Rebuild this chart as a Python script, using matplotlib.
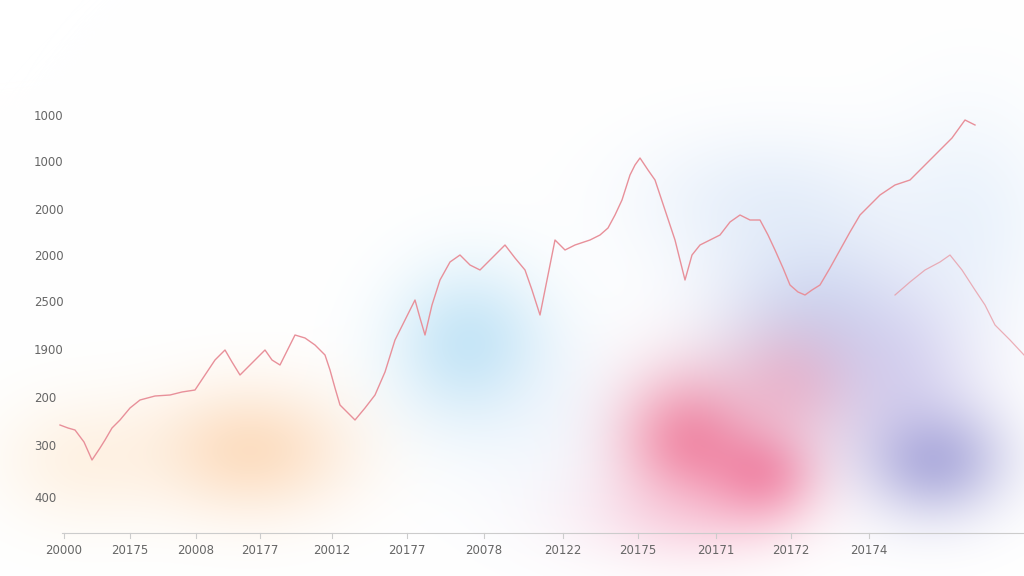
import numpy as np
import matplotlib.pyplot as plt

y_labels = ["1000", "1000", "2000", "2000", "2500", "1900", "200", "300", "400"]
y_pos = [116, 163, 210, 256, 303, 351, 398, 447, 498]
x_labels = ["20000", "20175", "20008", "20177", "20012", "20177", "20078",
            "20122", "20175", "20171", "20172", "20174"]
x_pos = [64, 130, 196, 260, 332, 407, 484, 563, 638, 716, 791, 869]

line_x = [60, 68, 75, 84, 92, 100, 105, 112, 120, 130, 140, 155, 170, 182, 195, 205,
          215, 225, 232, 240, 250, 265, 272, 280, 295, 305, 315, 325, 330, 335, 340,
          347, 355, 365, 375, 385, 395, 405, 415, 420, 425, 432, 440, 450, 460, 470,
          480, 492, 505, 515, 525, 532, 540, 548, 555, 565, 575, 590, 600, 608, 615,
          622, 630, 635, 640, 648, 655, 660, 665, 675, 685, 692, 700, 710, 720, 730,
          740, 750, 760, 768, 775, 783, 790, 798, 805, 812, 820, 830, 840, 850, 860,
          870, 880, 895, 910, 925, 940, 952, 965, 975]
line_y = [425, 428, 430, 442, 460, 448, 440, 428, 420, 408, 400, 396, 395, 392, 390, 375,
          360, 350, 362, 375, 365, 350, 360, 365, 335, 338, 345, 355, 370, 388, 405,
          412, 420, 408, 395, 372, 340, 320, 300, 318, 335, 305, 280, 262, 255, 265,
          270, 258, 245, 258, 270, 290, 315, 275, 240, 250, 245, 240, 235, 228, 215,
          200, 175, 165, 158, 170, 180, 195, 210, 240, 280, 255, 245, 240, 235, 222,
          215, 220, 220, 235, 250, 268, 285, 292, 295, 290, 285, 268, 250, 232, 215,
          205, 195, 185, 180, 165, 150, 138, 120, 125]
line2_x = [895, 910, 925, 940, 950, 962, 975, 985, 995, 1010, 1024]
line2_y = [295, 282, 270, 262, 255, 270, 290, 305, 325, 340, 355]

# watercolor blobs: x, y, sx, sy, colour, strength
blobs = [
    (250, 450, 70, 45, (0.98, 0.72, 0.48), 0.45),
    (80, 460, 60, 45, (0.99, 0.82, 0.62), 0.25),
    (470, 345, 55, 55, (0.50, 0.78, 0.93), 0.45),
    (560, 430, 80, 70, (0.88, 0.92, 0.98), 0.30),
    (690, 440, 50, 50, (0.93, 0.35, 0.50), 0.65),
    (760, 475, 40, 35, (0.92, 0.20, 0.40), 0.50),
    (810, 320, 70, 70, (0.55, 0.65, 0.88), 0.40),
    (790, 385, 50, 45, (0.96, 0.50, 0.62), 0.40),
    (935, 460, 50, 40, (0.35, 0.35, 0.72), 0.45),
    (905, 370, 55, 65, (0.62, 0.55, 0.85), 0.30),
    (760, 200, 90, 50, (0.78, 0.86, 0.96), 0.35),
    (970, 220, 60, 80, (0.80, 0.88, 0.97), 0.35),
    (680, 515, 80, 35, (0.96, 0.68, 0.80), 0.30),
]

fig = plt.figure(figsize=(10.24, 5.76), dpi=100)
ax = fig.add_axes([0, 0, 1, 1])
ax.set_xlim(0, 1024)
ax.set_ylim(576, 0)
ax.axis("off")

gx, gy = np.meshgrid(np.arange(1024), np.arange(576))
img = np.ones((576, 1024, 3))
for bx, by, sx, sy, col, a in blobs:
    w = a * np.exp(-(((gx - bx) / sx) ** 2 + ((gy - by) / sy) ** 2) / 2)
    w = np.clip(w, 0, 0.85)[..., None]
    img = img * (1 - w) + np.array(col) * w
ax.imshow(img, extent=(0, 1024, 576, 0), aspect="auto", zorder=0)

ax.plot(line_x, line_y, color="#e8909a", lw=1.0, zorder=3)
ax.plot(line2_x, line2_y, color="#e8909a", lw=0.9, alpha=0.7, zorder=3)
ax.plot([62, 1024], [533, 533], color="#cccccc", lw=0.8, zorder=2)

for lab, yp in zip(y_labels, y_pos):
    ax.text(34, yp, lab, fontsize=8.5, color="#666666", va="center", ha="left")
for lab, xp in zip(x_labels, x_pos):
    ax.plot([xp, xp], [533, 538], color="#cccccc", lw=0.8)
    ax.text(xp, 550, lab, fontsize=8.5, color="#666666", va="center", ha="center")

fig.savefig("out.png", dpi=100)
